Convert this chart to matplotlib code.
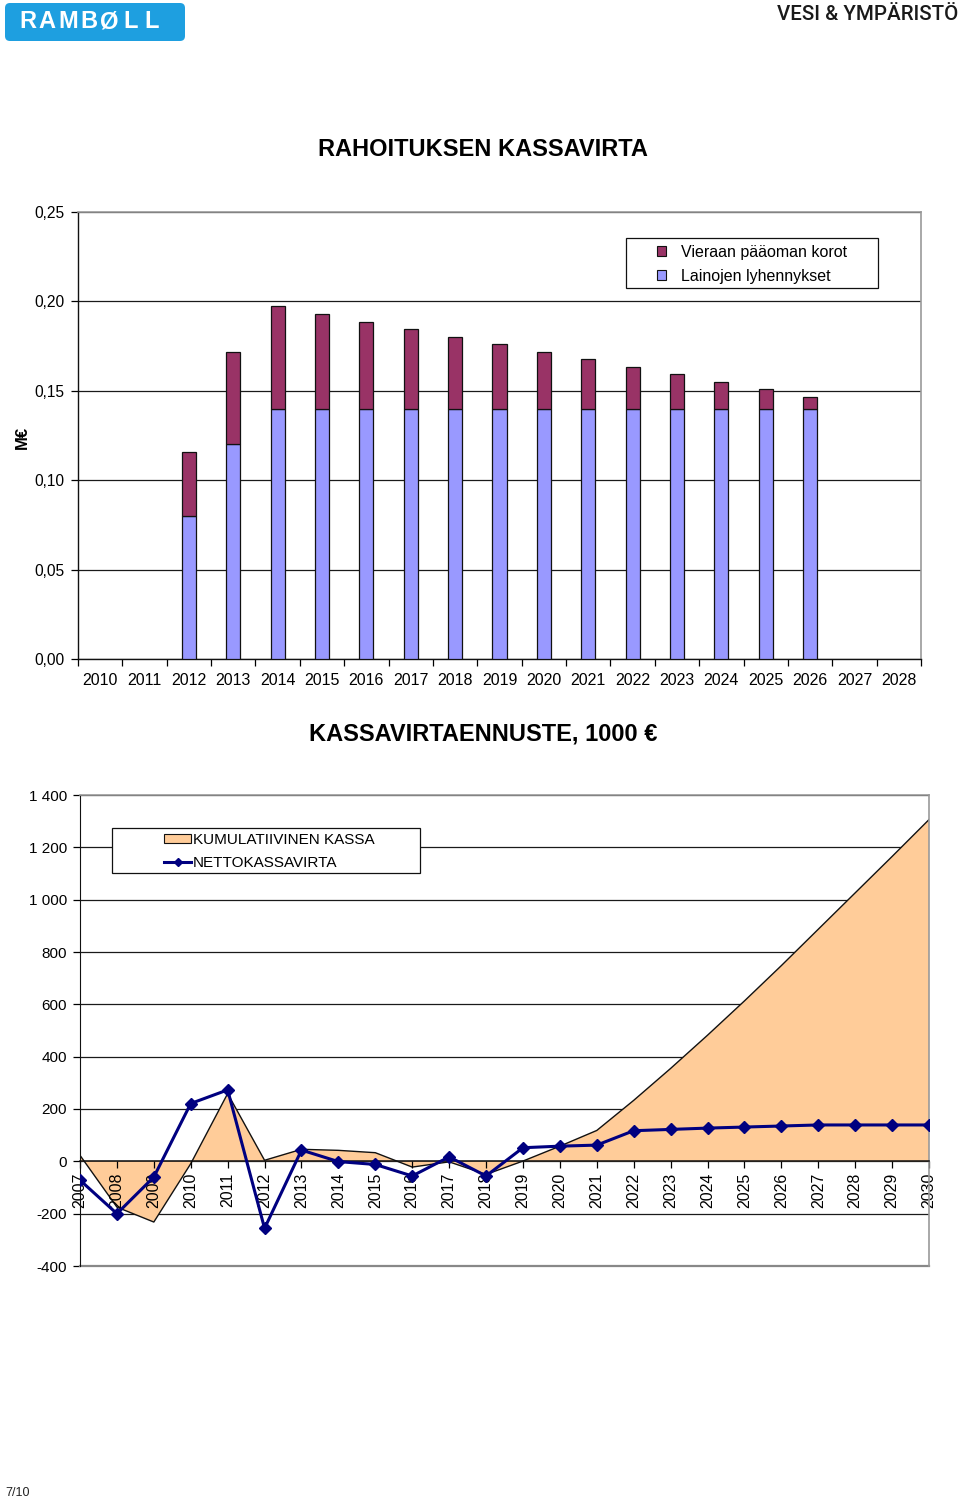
import matplotlib
matplotlib.use("Agg")
import matplotlib.pyplot as plt
from matplotlib.patches import Patch, Rectangle, FancyBboxPatch
from matplotlib.lines import Line2D
from matplotlib.ticker import FixedLocator, FuncFormatter

plt.rcParams['font.family'] = ['Liberation Sans', 'DejaVu Sans']

# ---------------- data ----------------
top_categories = [str(y) for y in range(2010, 2029)]
bar_years = [str(y) for y in range(2012, 2027)]
lyhennykset = [0.080, 0.120, 0.140, 0.140, 0.140, 0.140, 0.140, 0.140,
               0.140, 0.140, 0.140, 0.140, 0.140, 0.140, 0.140]
korot = [0.036, 0.0517, 0.0573, 0.0532, 0.0487, 0.0446, 0.0403, 0.0362,
         0.0319, 0.0276, 0.0235, 0.0192, 0.0151, 0.0110, 0.0067]
top_yticks = [0.00, 0.05, 0.10, 0.15, 0.20, 0.25]

bottom_years = list(range(2007, 2031))
kumulatiivinen = [23, -175, -232, -9, 259, 4, 46, 42, 33, -22, -2, -50,
                  1, 58, 118, 233, 355, 482, 613, 748, 887, 1026, 1165, 1306]
netto = [-72, -200, -60, 221, 273, -256, 43, -1, -12, -56, 17, -56,
         52, 58, 62, 117, 122, 127, 131, 135, 139, 139, 139, 139]
bottom_yticks = [-400, -200, 0, 200, 400, 600, 800, 1000, 1200, 1400]

W, H = 960, 1501
fig = plt.figure(figsize=(W / 100, H / 100), dpi=100)


def rect(l, t, r, b):
    return [l / W, 1 - b / H, (r - l) / W, (b - t) / H]


# ---------------- top chart ----------------
ax1 = fig.add_axes(rect(78, 212, 921, 659))
idx = [top_categories.index(y) for y in bar_years]
ax1.bar(idx, lyhennykset, width=0.32, color='#9999FF', edgecolor='#111111',
        linewidth=0.9, zorder=3, label='Lainojen lyhennykset')
ax1.bar(idx, korot, bottom=lyhennykset, width=0.32, color='#993366',
        edgecolor='#111111', linewidth=0.9, zorder=3, label='Vieraan pääoman korot')
ax1.set_xlim(-0.5, len(top_categories) - 0.5)
ax1.set_ylim(0, 0.25)
ax1.set_yticks(top_yticks)
ax1.yaxis.set_major_formatter(FuncFormatter(lambda v, p: f"{v:.2f}".replace('.', ',')))
ax1.set_xticks(range(len(top_categories)))
ax1.set_xticklabels(top_categories)
ax1.xaxis.set_minor_locator(FixedLocator([i - 0.5 for i in range(len(top_categories) + 1)]))
ax1.tick_params(axis='x', which='major', length=0, pad=10, labelsize=11.5)
ax1.tick_params(axis='x', which='minor', length=5, direction='out', width=0.9)
ax1.tick_params(axis='y', length=5, direction='out', width=0.9, labelsize=11.2, pad=4.5)
ax1.yaxis.grid(True, color='#1a1a1a', linewidth=0.9)
ax1.set_axisbelow(True)
for s in ['top', 'right']:
    ax1.spines[s].set_color('#999999')
    ax1.spines[s].set_linewidth(1.2)
for s in ['left', 'bottom']:
    ax1.spines[s].set_color('#111111')
    ax1.spines[s].set_linewidth(1.0)

# ---------------- bottom chart ----------------
ax2 = fig.add_axes(rect(80, 795, 929, 1266))
ax2.fill_between(bottom_years, kumulatiivinen, 0, facecolor='#FFCC99',
                 edgecolor='none', zorder=1)
ax2.plot(bottom_years, kumulatiivinen, color='#111111', linewidth=1.0, zorder=1.1)
ax2.plot(bottom_years, netto, color='#000080', linewidth=2.2, marker='D',
         markersize=6, zorder=3)
ax2.set_xlim(2007, 2030)
ax2.set_ylim(-400, 1400)
ax2.spines['bottom'].set_position(('data', 0))
ax2.set_yticks(bottom_yticks)
ax2.yaxis.set_major_formatter(FuncFormatter(lambda v, p: f"{int(v):,}".replace(',', ' ')))
ax2.set_xticks(bottom_years)
ax2.set_xticklabels([str(y) for y in bottom_years])
ax2.tick_params(axis='x', length=5, direction='out', width=0.9, labelsize=11.5,
                pad=3, labelrotation=90)
ax2.tick_params(axis='y', length=5, direction='out', width=0.9, labelsize=11, pad=4.5)
ax2.yaxis.grid(True, color='#1a1a1a', linewidth=0.9)
ax2.yaxis.set_zorder(0.5)
ax2.xaxis.set_zorder(1.5)
ax2.spines['bottom'].set_color('#111111')
ax2.spines['bottom'].set_linewidth(1.1)
ax2.spines['left'].set_color('#111111')
ax2.spines['top'].set_color('#999999')
ax2.spines['top'].set_linewidth(1.2)
ax2.spines['right'].set_color('#999999')
ax2.spines['right'].set_linewidth(1.2)
ax2.axhline(-400, color='#888888', linewidth=1.6, zorder=0.6, clip_on=False)

# ---------------- overlay for header / footer / legend frames ----------------
ov = fig.add_axes([0, 0, 1, 1])
ov.set_zorder(5)
ov.set_xlim(0, W)
ov.set_ylim(H, 0)
ov.axis('off')
ov.add_patch(FancyBboxPatch((5, 3), 180, 38, boxstyle="round,pad=0,rounding_size=5",
                            facecolor='#1E9FE0', edgecolor='none'))
for ch, xc in zip("RAMBØLL", [28, 47, 68, 89, 109, 131, 152]):
    ov.text(xc, 22, ch, color='white', fontsize=17, fontweight='bold',
            ha='center', va='center')
ov.text(958, 15, "VESI & YMPÄRISTÖ", fontsize=14.8, color='#1a1a1a',
        family=['Roboto', 'Liberation Sans'], fontweight='medium',
        ha='right', va='center')
ov.text(5, 1493, "7/10", fontsize=9, color='#222222', ha='left', va='center')

ov.add_patch(Rectangle((626, 238), 252, 50, facecolor='white', edgecolor='#111111',
                       linewidth=0.9))
ov.add_patch(Rectangle((112, 828), 308, 45, facecolor='white', edgecolor='#111111',
                       linewidth=0.9))

h1 = [Patch(facecolor='#993366', edgecolor='#111111', linewidth=0.8),
      Patch(facecolor='#9999FF', edgecolor='#111111', linewidth=0.8)]
leg1 = fig.legend(h1, ['Vieraan pääoman korot', 'Lainojen lyhennykset'],
                  loc='upper left', bbox_to_anchor=(644 / W, 1 - 232 / H),
                  frameon=False, fontsize=11.5, handlelength=0.55, handleheight=0.55,
                  handletextpad=0.95, labelspacing=0.55, borderpad=0.3)
leg1.set_zorder(6)

h2 = [Patch(facecolor='#FFCC99', edgecolor='#111111', linewidth=0.8),
      Line2D([], [], color='#000080', linewidth=2.2, marker='D', markersize=4.5)]
leg2 = fig.legend(h2, ['KUMULATIIVINEN KASSA', 'NETTOKASSAVIRTA'],
                  loc='upper left', bbox_to_anchor=(152 / W, 1 - 821 / H),
                  frameon=False, fontsize=11, handlelength=1.75, handleheight=0.55,
                  handletextpad=0.15, labelspacing=0.6, borderpad=0.3)
leg2.set_zorder(6)

fig.text(483 / W, 1 - 150 / H, "RAHOITUKSEN KASSAVIRTA", fontsize=17,
         fontweight='bold', ha='center', va='center')
fig.text(22 / W, 1 - 437 / H, "M€", fontsize=12, fontweight='bold',
         rotation=90, ha='center', va='center')
fig.text(483 / W, 1 - 734 / H, "KASSAVIRTAENNUSTE, 1000 €", fontsize=17,
         fontweight='bold', ha='center', va='center')

fig.savefig("out.png", dpi=100)
